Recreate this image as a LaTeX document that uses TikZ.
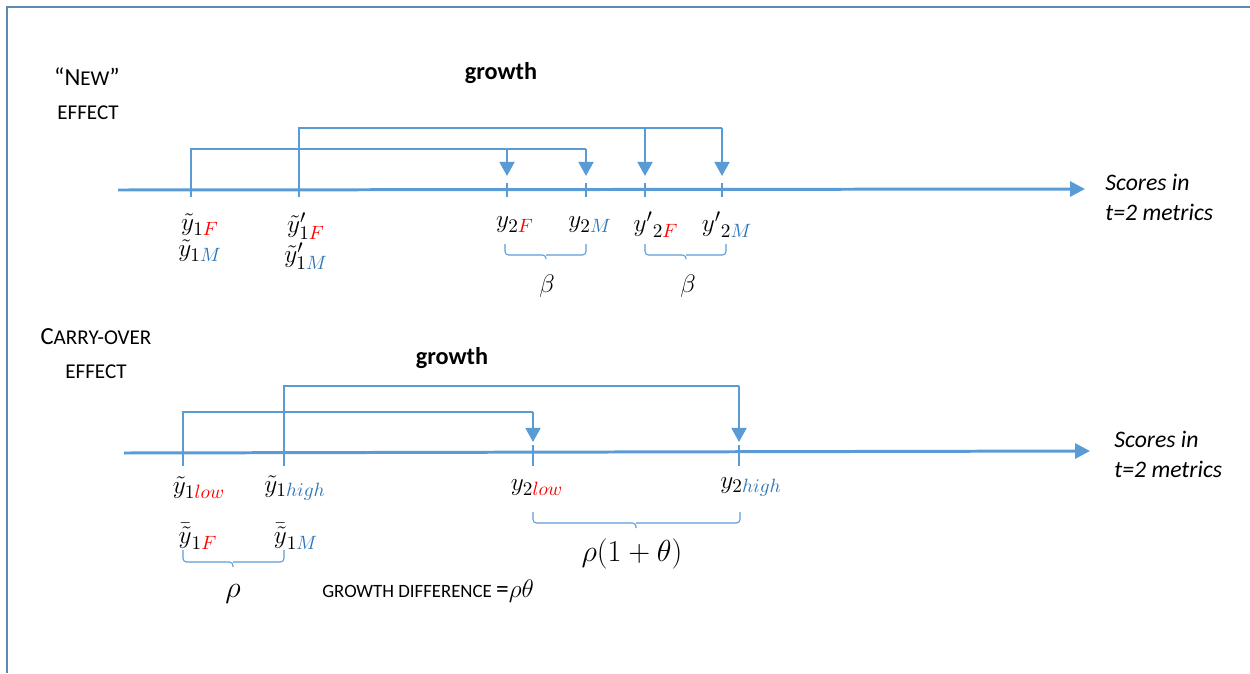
\documentclass[tikz,border=0pt]{standalone}
\usepackage{fontspec}
\setmainfont{Carlito}
\usetikzlibrary{arrows.meta,positioning,calc}
\DeclareMathSizes{14.5}{14.5}{11}{9}
\definecolor{axis}{HTML}{5B9BD5}
\definecolor{frame}{HTML}{5F88B3}
\definecolor{fem}{HTML}{FF0000}
\definecolor{mal}{HTML}{2E75B6}
\newcommand{\fsub}{\textcolor{fem}{F}}
\newcommand{\msub}{\textcolor{mal}{M}}
\newcommand{\lowsub}{\textcolor{fem}{low}}
\newcommand{\highsub}{\textcolor{mal}{high}}

\begin{document}
\begin{tikzpicture}[x=.02cm,y=-.02cm,
  lab/.style={font=\fontsize{14.5}{16}\selectfont,inner sep=0pt},
  brk/.style={axis,line width=.7pt},
  arr/.style={axis,line width=1.2pt,-{Triangle[width=8.5pt,length=8pt]}},
  axtick/.style={axis,line width=.6pt},
  obrace/.style={axis,line width=.6pt,rounded corners=2pt},
  axline/.style={axis,line width=1.7pt,-{Triangle[width=8.5pt,length=8.5pt]}},
  scores/.style={font=\itshape\fontsize{13.5}{17}\selectfont,align=left,anchor=west,inner sep=0pt}]
\useasboundingbox (0,0) rectangle (1250,673);
\draw[frame,line width=1.2pt] (7,673) -- (7,7) -- (1250,7);

% "new" effect
\node[font=\fontsize{14}{16}\selectfont] (new) at (87,77) {``N{\fontsize{12}{14}\selectfont EW}''};
\node[font=\fontsize{12}{14}\selectfont] (eff1) at (88,113) {EFFECT};
\node[font=\bfseries\fontsize{13.8}{16}\selectfont] (gr1) at (501,73) {growth};
\coordinate (a1) at (118,190); \coordinate (a2) at (1085,189);
\draw[axline] (a1) -- (a2);
\node[scores] (sc1) at (1105,197) {Scores in\\t=2 metrics};
\foreach \n/\x in {p1/191,p2/299,q1/507,q2/586,q3/645,q4/722}{\coordinate (\n) at (\x,190);}
\coordinate (h1) at (0,149); \coordinate (h2) at (0,128); \coordinate (tp) at (0,176);
\foreach \n in {p1,p2,q1,q2,q3,q4}{\draw[axtick] ($(\n)+(0,-7)$) -- ($(\n)+(0,7)$);}
\draw[brk] (p1) -- (p1 |- h1) -- (q2 |- h1);
\draw[brk] (p2) -- (p2 |- h2) -- (q4 |- h2);
\foreach \n/\h in {q1/h1,q2/h1,q3/h2,q4/h2}{\draw[arr] (\n |- \h) -- (\n |- tp);}
\node[lab] (l1F) at (200,225) {$\tilde{y}_{1\fsub}$};
\node[lab] (l1M) at (200,251) {$\tilde{y}_{1\msub}$};
\node[lab] (l1Fp) at (306,226) {${\tilde{y}'}_{1\fsub}$};
\node[lab] (l1Mp) at (306,256) {${\tilde{y}'}_{1\msub}$};
\node[lab] (l2F) at (515,225) {$y_{2\fsub}$};
\node[lab] (l2M) at (590,225) {$y_{2\msub}$};
\node[lab] (l2Fp) at (656,225) {${y'}_{2\fsub}$};
\node[lab] (l2Mp) at (727,225) {${y'}_{2\msub}$};
\draw[obrace] (505,244) |- (546,255) -- (546,259) (546,255) -| (586,244);
\draw[obrace] (645,244) |- (686,255) -- (686,259) (686,255) -| (726,244);
\node[lab] (beta1) at (547,286) {$\beta$};
\node[lab] (beta2) at (688,286) {$\beta$};

% carry-over effect
\node (co) at (96,337) {\fontsize{14}{16}\selectfont C\fontsize{12}{14}\selectfont ARRY-OVER};
\node[font=\fontsize{12}{14}\selectfont] (eff2) at (96,372) {EFFECT};
\node[font=\bfseries\fontsize{13.8}{16}\selectfont] (gr2) at (452,358) {growth};
\coordinate (b1) at (124,453); \coordinate (b2) at (1090,451);
\draw[axline] (b1) -- (b2);
\node[scores] (sc2) at (1114,454) {Scores in\\t=2 metrics};
\foreach \n/\x in {r1/183,r2/284,s1/533,s2/739}{\coordinate (\n) at (\x,453);}
\coordinate (h3) at (0,412); \coordinate (h4) at (0,386); \coordinate (tq) at (0,442);
\foreach \n in {r1,r2,s1,s2}{\draw[axtick] ($(\n)+(0,-8)$) -- ($(\n)+(0,13)$);}
\draw[brk] (r1) -- (r1 |- h3) -- (s1 |- h3);
\draw[brk] (r2) -- (r2 |- h4) -- (s2 |- h4);
\foreach \n/\h in {s1/h3,s2/h4}{\draw[arr] (\n |- \h) -- (\n |- tq);}
\node[lab] (llow) at (199,488) {$\tilde{y}_{1\lowsub}$};
\node[lab] (lhigh) at (295,488) {$\tilde{y}_{1\highsub}$};
\node[lab] (mF) at (198,536) {$\bar{\tilde{y}}_{1\fsub}$};
\node[lab] (mM) at (296,536) {$\bar{\tilde{y}}_{1\msub}$};
\node[lab] (l2low) at (537,488) {$y_{2\lowsub}$};
\node[lab] (l2high) at (751,487) {$y_{2\highsub}$};
\draw[obrace] (183,550) |- (233,562) -- (233,567) (233,562) -| (284,550);
\draw[obrace] (533,512) |- (636,523) -- (636,528) (636,523) -| (740,512);
\node[lab,font=\fontsize{16}{18}\selectfont] (rho) at (233,594) {$\rho$};
\node[lab,font=\fontsize{16}{18}\selectfont] (rhot) at (632,554) {$\rho(1+\theta)$};
\node[anchor=west,inner sep=0pt] (gd) at (322,591) {\fontsize{10.7}{12}\selectfont GROWTH DIFFERENCE \fontsize{14.5}{16}\selectfont =$\rho\theta$};
\end{tikzpicture}
\end{document}
